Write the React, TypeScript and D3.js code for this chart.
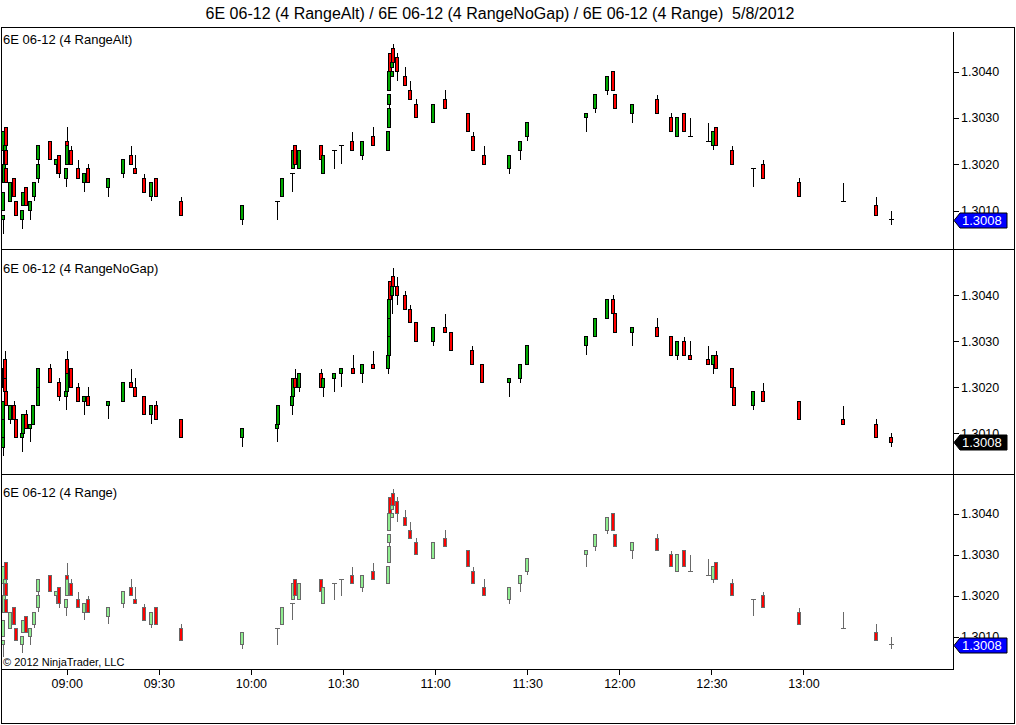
import * as d3 from "d3";
import { useEffect, useRef } from "react";

// [time, open, high, low, close]
type Bar = [string, number, number, number, number];

const TITLE = "6E 06-12 (4 RangeAlt) / 6E 06-12 (4 RangeNoGap) / 6E 06-12 (4 Range)  5/8/2012";
const PANEL_NAMES = ["6E 06-12 (4 RangeAlt)", "6E 06-12 (4 RangeNoGap)", "6E 06-12 (4 Range)"];
const TIME_TICKS = ["09:00", "09:30", "10:00", "10:30", "11:00", "11:30", "12:00", "12:30", "13:00"];
const PRICE_TICKS = [1.301, 1.302, 1.303, 1.304];
const LAST_PRICE = 1.3008;
const COPYRIGHT = "© 2012 NinjaTrader, LLC";

const RANGE_ALT_BARS: Bar[] = [
	["08:39:35", 1.3008, 1.3009, 1.3005, 1.3009],
	["08:39:40", 1.3023, 1.3027, 1.3023, 1.3027],
	["08:39:44", 1.301, 1.3014, 1.301, 1.3014],
	["08:39:54", 1.3016, 1.302, 1.3016, 1.302],
	["08:40:08", 1.302, 1.3024, 1.302, 1.3024],
	["08:40:24", 1.3028, 1.3028, 1.3024, 1.3024],
	["08:40:28", 1.3023, 1.3023, 1.302, 1.302],
	["08:40:33", 1.3019, 1.3019, 1.3016, 1.3016],
	["08:41:57", 1.3012, 1.3016, 1.3012, 1.3016],
	["08:43:16", 1.3017, 1.3017, 1.3013, 1.3013],
	["08:43:55", 1.3012, 1.3012, 1.3009, 1.3009],
	["08:45:52", 1.3008, 1.301, 1.3006, 1.301],
	["08:46:05", 1.3011, 1.3014, 1.3011, 1.3014],
	["08:47:10", 1.3015, 1.3015, 1.3011, 1.3011],
	["08:48:28", 1.301, 1.3012, 1.3008, 1.3012],
	["08:49:31", 1.3013, 1.3016, 1.3012, 1.3016],
	["08:50:53", 1.3017, 1.302, 1.3016, 1.302],
	["08:50:59", 1.3021, 1.3024, 1.302, 1.3024],
	["08:54:59", 1.3025, 1.3025, 1.3021, 1.3021],
	["08:56:50", 1.302, 1.3021, 1.3018, 1.3021],
	["08:57:55", 1.3022, 1.3022, 1.3017, 1.3018],
	["09:00:12", 1.3017, 1.3019, 1.3015, 1.3019],
	["09:00:20", 1.302, 1.3024, 1.302, 1.3024],
	["09:00:30", 1.3025, 1.3028, 1.3024, 1.3024],
	["09:01:49", 1.3023, 1.3024, 1.302, 1.302],
	["09:04:06", 1.3019, 1.3021, 1.3017, 1.3017],
	["09:06:04", 1.3016, 1.3018, 1.3014, 1.3018],
	["09:07:22", 1.3019, 1.302, 1.3016, 1.3016],
	["09:13:53", 1.3015, 1.3017, 1.3013, 1.3017],
	["09:18:46", 1.3018, 1.3021, 1.3017, 1.3021],
	["09:21:22", 1.3022, 1.3024, 1.302, 1.302],
	["09:22:40", 1.3019, 1.3022, 1.3018, 1.3018],
	["09:25:36", 1.3017, 1.3018, 1.3014, 1.3014],
	["09:27:53", 1.3013, 1.3016, 1.3012, 1.3016],
	["09:29:31", 1.3017, 1.3017, 1.3013, 1.3013],
	["09:37:39", 1.3012, 1.3013, 1.3009, 1.3009],
	["09:57:31", 1.3008, 1.3011, 1.3007, 1.3011],
	["10:08:56", 1.3012, 1.3012, 1.3008, 1.3012],
	["10:10:33", 1.3013, 1.3017, 1.3013, 1.3017],
	["10:13:49", 1.3018, 1.3018, 1.3014, 1.3018],
	["10:14:02", 1.3019, 1.3023, 1.3019, 1.3023],
	["10:14:47", 1.3024, 1.3024, 1.302, 1.302],
	["10:16:05", 1.3019, 1.3023, 1.3019, 1.3023],
	["10:23:16", 1.3024, 1.3024, 1.3021, 1.3021],
	["10:23:55", 1.3018, 1.3022, 1.3018, 1.3022],
	["10:27:23", 1.3023, 1.3023, 1.3019, 1.3023],
	["10:29:47", 1.3024, 1.3024, 1.302, 1.3024],
	["10:33:16", 1.3025, 1.3027, 1.3023, 1.3023],
	["10:36:31", 1.3022, 1.3025, 1.3021, 1.3025],
	["10:40:06", 1.3026, 1.3028, 1.3024, 1.3024],
	["10:44:59", 1.3023, 1.3027, 1.3023, 1.3027],
	["10:45:19", 1.3028, 1.3032, 1.3028, 1.3032],
	["10:45:22", 1.3033, 1.3035, 1.3032, 1.3035],
	["10:45:28", 1.3036, 1.304, 1.3036, 1.304],
	["10:45:38", 1.3044, 1.3044, 1.304, 1.304],
	["10:46:17", 1.3041, 1.3042, 1.3041, 1.3042],
	["10:46:20", 1.3039, 1.304, 1.3039, 1.304],
	["10:46:37", 1.3045, 1.3046, 1.3042, 1.3042],
	["10:47:55", 1.3043, 1.3044, 1.3038, 1.304],
	["10:50:31", 1.3039, 1.3041, 1.3037, 1.3037],
	["10:52:09", 1.3036, 1.3038, 1.3034, 1.3034],
	["10:54:06", 1.3033, 1.3034, 1.303, 1.303],
	["10:59:38", 1.3029, 1.3033, 1.3029, 1.3033],
	["11:03:33", 1.3034, 1.3036, 1.3032, 1.3032],
	["11:11:02", 1.3031, 1.3031, 1.3027, 1.3027],
	["11:12:40", 1.3026, 1.3027, 1.3023, 1.3023],
	["11:16:15", 1.3022, 1.3024, 1.302, 1.302],
	["11:24:24", 1.3019, 1.3022, 1.3018, 1.3022],
	["11:27:59", 1.3023, 1.3025, 1.3021, 1.3025],
	["11:30:16", 1.3026, 1.3029, 1.3025, 1.3029],
	["11:49:29", 1.303, 1.3031, 1.3027, 1.3031],
	["11:52:25", 1.3032, 1.3035, 1.3031, 1.3035],
	["11:56:19", 1.3036, 1.3039, 1.3035, 1.3039],
	["11:58:16", 1.304, 1.304, 1.3036, 1.3036],
	["11:58:55", 1.3035, 1.3035, 1.3032, 1.3032],
	["12:04:28", 1.3031, 1.3033, 1.3029, 1.3033],
	["12:12:36", 1.3034, 1.3035, 1.3031, 1.3031],
	["12:17:10", 1.303, 1.3031, 1.3027, 1.3027],
	["12:19:07", 1.3026, 1.303, 1.3026, 1.303],
	["12:21:24", 1.3031, 1.3031, 1.3027, 1.3027],
	["12:23:31", 1.3026, 1.303, 1.3026, 1.3026],
	["12:29:23", 1.3025, 1.3029, 1.3025, 1.3025],
	["12:30:51", 1.3024, 1.3027, 1.3023, 1.3027],
	["12:31:49", 1.3028, 1.3028, 1.3024, 1.3024],
	["12:37:02", 1.3023, 1.3024, 1.302, 1.302],
	["12:43:58", 1.3019, 1.3019, 1.3015, 1.3019],
	["12:47:08", 1.302, 1.3021, 1.3017, 1.3017],
	["12:58:52", 1.3016, 1.3017, 1.3013, 1.3013],
	["13:13:17", 1.3012, 1.3016, 1.3012, 1.3012],
	["13:23:56", 1.3011, 1.3013, 1.3009, 1.3009],
	["13:28:55", 1.3008, 1.301, 1.3007, 1.3008],
];

const RANGE_NOGAP_BARS: Bar[] = [
	["08:39:35", 1.3007, 1.3009, 1.3005, 1.3009],
	["08:39:40", 1.3009, 1.3013, 1.3009, 1.3013],
	["08:39:44", 1.3013, 1.3017, 1.3013, 1.3017],
	["08:39:54", 1.302, 1.3024, 1.302, 1.3024],
	["08:40:08", 1.3026, 1.3028, 1.3022, 1.3022],
	["08:40:14", 1.3022, 1.3022, 1.3019, 1.3019],
	["08:40:33", 1.3019, 1.302, 1.3016, 1.3016],
	["08:41:52", 1.3013, 1.3016, 1.3012, 1.3016],
	["08:43:16", 1.3016, 1.3017, 1.3013, 1.3013],
	["08:43:55", 1.3013, 1.3013, 1.3009, 1.3009],
	["08:45:52", 1.3009, 1.301, 1.3006, 1.301],
	["08:46:11", 1.301, 1.3014, 1.301, 1.3014],
	["08:47:10", 1.3014, 1.3015, 1.3011, 1.3011],
	["08:48:28", 1.3011, 1.3012, 1.3008, 1.3012],
	["08:49:27", 1.3012, 1.3016, 1.3012, 1.3016],
	["08:50:53", 1.3016, 1.302, 1.3016, 1.302],
	["08:50:59", 1.302, 1.3024, 1.302, 1.3024],
	["08:54:59", 1.3024, 1.3025, 1.3021, 1.3021],
	["08:57:55", 1.3021, 1.3022, 1.3017, 1.3018],
	["09:00:12", 1.3018, 1.3019, 1.3015, 1.3019],
	["09:00:20", 1.3019, 1.3023, 1.3019, 1.3023],
	["09:00:30", 1.3026, 1.3028, 1.3023, 1.3023],
	["09:01:49", 1.3024, 1.3024, 1.302, 1.302],
	["09:04:06", 1.302, 1.3021, 1.3017, 1.3017],
	["09:06:04", 1.3017, 1.3018, 1.3014, 1.3018],
	["09:07:22", 1.3018, 1.302, 1.3016, 1.3016],
	["09:13:53", 1.3016, 1.3017, 1.3013, 1.3017],
	["09:18:46", 1.3017, 1.3021, 1.3017, 1.3021],
	["09:21:22", 1.3021, 1.3024, 1.302, 1.302],
	["09:22:40", 1.302, 1.3022, 1.3018, 1.3018],
	["09:25:36", 1.3018, 1.3018, 1.3014, 1.3014],
	["09:27:53", 1.3014, 1.3016, 1.3012, 1.3016],
	["09:29:31", 1.3016, 1.3017, 1.3013, 1.3013],
	["09:37:39", 1.3013, 1.3013, 1.3009, 1.3009],
	["09:57:31", 1.3009, 1.3011, 1.3007, 1.3011],
	["10:08:56", 1.3011, 1.3012, 1.3008, 1.3012],
	["10:09:00", 1.3012, 1.3016, 1.3012, 1.3016],
	["10:13:49", 1.3016, 1.3018, 1.3014, 1.3018],
	["10:14:02", 1.3018, 1.3022, 1.3018, 1.3022],
	["10:14:47", 1.3022, 1.3024, 1.302, 1.302],
	["10:16:05", 1.302, 1.3023, 1.3019, 1.3023],
	["10:23:16", 1.3023, 1.3024, 1.302, 1.302],
	["10:23:55", 1.302, 1.3022, 1.3018, 1.3022],
	["10:27:23", 1.3022, 1.3023, 1.3019, 1.3023],
	["10:29:47", 1.3023, 1.3024, 1.302, 1.3024],
	["10:33:35", 1.3024, 1.3027, 1.3023, 1.3023],
	["10:36:31", 1.3023, 1.3025, 1.3021, 1.3025],
	["10:40:06", 1.3025, 1.3028, 1.3024, 1.3024],
	["10:44:59", 1.3024, 1.3027, 1.3023, 1.3027],
	["10:45:19", 1.3027, 1.3031, 1.3027, 1.3031],
	["10:45:22", 1.3031, 1.3035, 1.3031, 1.3035],
	["10:45:28", 1.3035, 1.3039, 1.3035, 1.3039],
	["10:45:38", 1.3043, 1.3043, 1.3039, 1.3039],
	["10:46:17", 1.304, 1.3042, 1.3036, 1.3042],
	["10:46:37", 1.3044, 1.3046, 1.3042, 1.3042],
	["10:47:55", 1.3042, 1.3044, 1.3038, 1.304],
	["10:50:31", 1.304, 1.3041, 1.3037, 1.3037],
	["10:52:09", 1.3037, 1.3038, 1.3034, 1.3034],
	["10:54:06", 1.3034, 1.3034, 1.303, 1.303],
	["10:59:38", 1.303, 1.3033, 1.3029, 1.3033],
	["11:03:33", 1.3033, 1.3036, 1.3032, 1.3032],
	["11:05:30", 1.3032, 1.3032, 1.3028, 1.3028],
	["11:12:21", 1.3028, 1.3029, 1.3025, 1.3025],
	["11:15:36", 1.3025, 1.3025, 1.3021, 1.3021],
	["11:24:24", 1.3021, 1.3022, 1.3018, 1.3022],
	["11:27:59", 1.3022, 1.3025, 1.3021, 1.3025],
	["11:30:16", 1.3025, 1.3029, 1.3025, 1.3029],
	["11:49:29", 1.3029, 1.3031, 1.3027, 1.3031],
	["11:52:25", 1.3031, 1.3035, 1.3031, 1.3035],
	["11:56:19", 1.3035, 1.3039, 1.3035, 1.3039],
	["11:58:16", 1.3039, 1.304, 1.3036, 1.3036],
	["11:58:55", 1.3036, 1.3036, 1.3032, 1.3032],
	["12:04:28", 1.3032, 1.3033, 1.3029, 1.3033],
	["12:12:36", 1.3033, 1.3035, 1.3031, 1.3031],
	["12:17:10", 1.3031, 1.3031, 1.3027, 1.3027],
	["12:19:07", 1.3027, 1.303, 1.3026, 1.303],
	["12:21:24", 1.303, 1.3031, 1.3027, 1.3027],
	["12:23:31", 1.3027, 1.303, 1.3026, 1.3026],
	["12:29:23", 1.3026, 1.3029, 1.3025, 1.3025],
	["12:30:51", 1.3025, 1.3027, 1.3023, 1.3027],
	["12:31:49", 1.3027, 1.3028, 1.3024, 1.3024],
	["12:37:02", 1.3024, 1.3024, 1.302, 1.302],
	["12:37:41", 1.302, 1.302, 1.3016, 1.3016],
	["12:43:58", 1.3016, 1.3019, 1.3015, 1.3019],
	["12:47:08", 1.3019, 1.3021, 1.3017, 1.3017],
	["12:58:52", 1.3017, 1.3017, 1.3013, 1.3013],
	["13:13:17", 1.3013, 1.3016, 1.3012, 1.3012],
	["13:23:56", 1.3012, 1.3013, 1.3009, 1.3009],
	["13:28:55", 1.3009, 1.301, 1.3007, 1.3008],
];

// the plain Range series prints the same bars as RangeAlt on this session
const RANGE_BARS: Bar[] = RANGE_ALT_BARS;

const W = 1016;
const H = 725;
const PLOT_LEFT = 1;
const PLOT_RIGHT = 953;
const FONT = "'Liberation Sans', Arial, Helvetica, sans-serif";

const PANELS = [
	{
		name: PANEL_NAMES[0],
		bars: RANGE_ALT_BARS,
		top: 27,
		bottom: 249,
		labelY: 44,
		domain: [1.300171, 1.304965],
		up: "#00aa00",
		down: "#ff0000",
		outline: "#000000",
		marker: "#0000ff",
	},
	{
		name: PANEL_NAMES[1],
		bars: RANGE_NOGAP_BARS,
		top: 249,
		bottom: 474,
		labelY: 273,
		domain: [1.300115, 1.305007],
		up: "#00aa00",
		down: "#ff0000",
		outline: "#000000",
		marker: "#000000",
	},
	{
		name: PANEL_NAMES[2],
		bars: RANGE_BARS,
		top: 474,
		bottom: 669,
		labelY: 497,
		domain: [1.300212, 1.304968],
		up: "#90ee90",
		down: "#ff0000",
		outline: "#696969",
		marker: "#0000ff",
	},
];

const parseTime = d3.timeParse("%H:%M:%S");
const parseTick = d3.timeParse("%H:%M");

export default function App() {
	const svgRef = useRef<SVGSVGElement>(null);

	useEffect(() => {
		if (!svgRef.current) return;
		document.body.style.margin = "0";
		const svg = d3.select(svgRef.current);
		svg.selectAll("*").remove();

		const x = d3
			.scaleTime()
			.domain([parseTime("08:38:36") as Date, parseTime("13:48:42") as Date])
			.range([PLOT_LEFT, PLOT_RIGHT]);
		const bx = (d: Bar) => Math.round(x(parseTime(d[0]) as Date));

		svg.append("rect").attr("width", W).attr("height", H).attr("fill", "#ffffff");

		svg
			.append("text")
			.attr("x", 500)
			.attr("y", 19)
			.attr("text-anchor", "middle")
			.attr("font-family", FONT)
			.attr("font-size", 16)
			.attr("fill", "#000")
			.style("white-space", "pre")
			.text(TITLE);

		PANELS.forEach((p) => {
			const y = d3.scaleLinear().domain(p.domain).range([p.bottom, p.top]);
			const g = svg.append("g").attr("shape-rendering", "crispEdges");

			// wicks
			g.selectAll("line.wick")
				.data(p.bars)
				.join("line")
				.attr("class", "wick")
				.attr("x1", (d) => bx(d) - 0.5)
				.attr("x2", (d) => bx(d) - 0.5)
				.attr("y1", (d) => y(d[2]))
				.attr("y2", (d) => y(d[3]))
				.attr("stroke", p.outline)
				.attr("stroke-width", 1);

			// bodies
			g.selectAll("rect.body")
				.data(p.bars.filter((d) => d[1] !== d[4]))
				.join("rect")
				.attr("class", "body")
				.attr("x", (d) => bx(d) - 2.5)
				.attr("y", (d) => y(Math.max(d[1], d[4])))
				.attr("width", 3)
				.attr("height", (d) => Math.abs(y(d[1]) - y(d[4])))
				.attr("fill", (d) => (d[4] > d[1] ? p.up : p.down))
				.attr("stroke", p.outline)
				.attr("stroke-width", 1);

			// open == close
			g.selectAll("line.doji")
				.data(p.bars.filter((d) => d[1] === d[4]))
				.join("line")
				.attr("class", "doji")
				.attr("x1", (d) => bx(d) - 3)
				.attr("x2", (d) => bx(d) + 2)
				.attr("y1", (d) => y(d[1]))
				.attr("y2", (d) => y(d[1]))
				.attr("stroke", p.outline)
				.attr("stroke-width", 1);

			svg
				.append("text")
				.attr("x", 3)
				.attr("y", p.labelY)
				.attr("font-family", FONT)
				.attr("font-size", 13)
				.attr("fill", "#000")
				.text(p.name);

			// price axis
			const ax = svg.append("g");
			ax.selectAll("line")
				.data(PRICE_TICKS)
				.join("line")
				.attr("x1", PLOT_RIGHT)
				.attr("x2", PLOT_RIGHT + 6)
				.attr("y1", (d) => Math.round(y(d)) + 0.5)
				.attr("y2", (d) => Math.round(y(d)) + 0.5)
				.attr("stroke", "#000");
			ax.selectAll("text")
				.data(PRICE_TICKS)
				.join("text")
				.attr("x", PLOT_RIGHT + 8)
				.attr("y", (d) => y(d))
				.attr("dy", "0.36em")
				.attr("font-family", FONT)
				.attr("font-size", 12.5)
				.attr("fill", "#000")
				.text((d) => d3.format(".4f")(d));

			// last price marker
			const my = Math.round(y(LAST_PRICE)) + 0.5;
			svg
				.append("path")
				.attr(
					"d",
					`M${PLOT_RIGHT + 1},${my} L${PLOT_RIGHT + 7},${my - 7.5} L${PLOT_RIGHT + 54},${my - 7.5} L${PLOT_RIGHT + 54},${my + 7.5} L${PLOT_RIGHT + 7},${my + 7.5} Z`,
				)
				.attr("fill", p.marker)
				.attr("stroke", "#000")
				.attr("stroke-width", 1);
			svg
				.append("text")
				.attr("x", PLOT_RIGHT + 9)
				.attr("y", my)
				.attr("dy", "0.36em")
				.attr("font-family", FONT)
				.attr("font-size", 13)
				.attr("fill", "#fff")
				.text(d3.format(".4f")(LAST_PRICE));
		});

		svg
			.append("text")
			.attr("x", 3)
			.attr("y", 666)
			.attr("font-family", FONT)
			.attr("font-size", 11)
			.attr("fill", "#000")
			.text(COPYRIGHT);

		// time axis
		const tg = svg.append("g");
		const ticks = TIME_TICKS.map((t) => parseTick(t) as Date);
		tg.selectAll("line")
			.data(ticks)
			.join("line")
			.attr("x1", (d) => Math.round(x(d)) + 0.5)
			.attr("x2", (d) => Math.round(x(d)) + 0.5)
			.attr("y1", 669)
			.attr("y2", 675)
			.attr("stroke", "#000");
		tg.selectAll("text")
			.data(ticks)
			.join("text")
			.attr("x", (d) => x(d) + 0.5)
			.attr("y", 688)
			.attr("text-anchor", "middle")
			.attr("font-family", FONT)
			.attr("font-size", 12.5)
			.attr("fill", "#000")
			.text((d) => d3.timeFormat("%H:%M")(d));

		// frame
		const fr = svg.append("g").attr("stroke", "#000").attr("stroke-width", 1).attr("fill", "none");
		fr.append("rect").attr("x", 1.5).attr("y", 27.5).attr("width", 1013).attr("height", 696);
		fr.append("line").attr("x1", 1).attr("x2", 1015).attr("y1", 249.5).attr("y2", 249.5);
		fr.append("line").attr("x1", 1).attr("x2", 1015).attr("y1", 474.5).attr("y2", 474.5);
		fr.append("line").attr("x1", 1).attr("x2", PLOT_RIGHT).attr("y1", 669.5).attr("y2", 669.5);
		fr.append("line").attr("x1", PLOT_RIGHT + 0.5).attr("x2", PLOT_RIGHT + 0.5).attr("y1", 32).attr("y2", 670);
	}, []);

	return <svg ref={svgRef} width={W} height={H} style={{ display: "block" }} />;
}
